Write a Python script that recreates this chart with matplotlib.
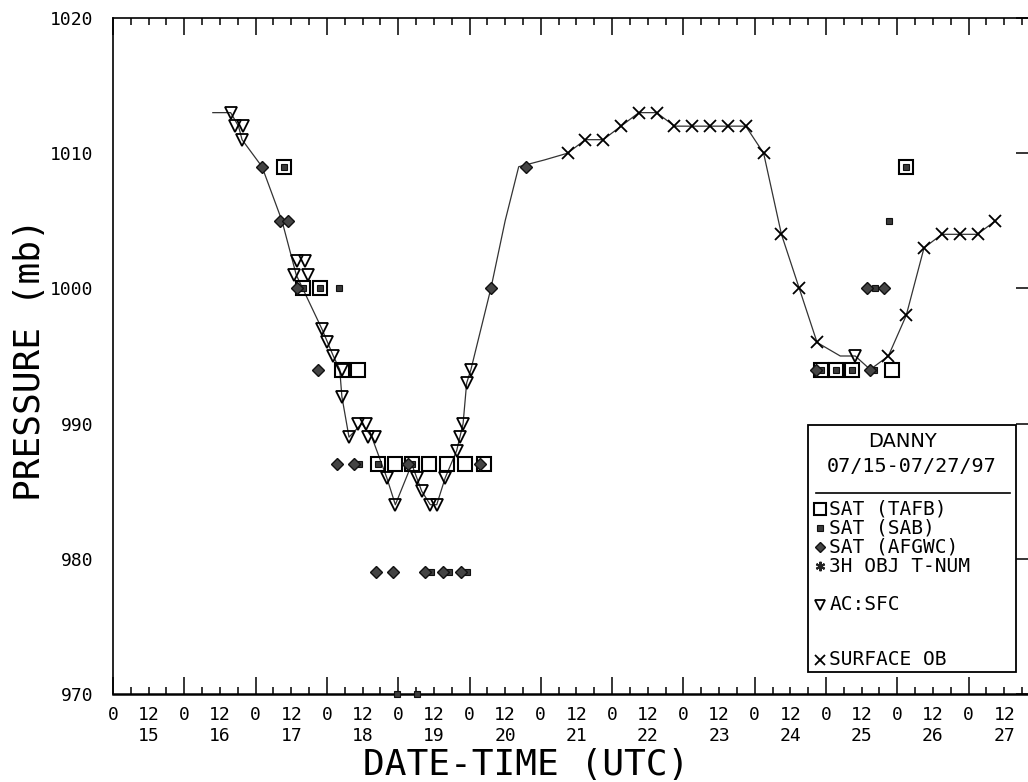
import matplotlib
matplotlib.use('Agg')
import matplotlib.pyplot as plt
from matplotlib.patches import Rectangle
import numpy as np

plt.rcParams['font.family'] = ['DejaVu Sans Mono']

# ---------------- data (x = day of July 1997, fractional; y = pressure mb) ----------------
track_day = [16.40, 16.65, 16.76, 16.81, 17.09, 17.37, 17.57, 17.93, 18.09, 18.18, 18.21,
             18.31, 18.49, 18.63, 18.84, 18.96, 19.19, 19.33, 19.45, 19.54, 19.66, 19.82,
             19.91, 19.96, 20.02, 20.30, 20.50, 20.69, 21.05, 21.375, 21.625, 21.875,
             22.125, 22.375, 22.625, 22.875, 23.125, 23.375, 23.625, 23.875, 24.125,
             24.375, 24.625, 24.875, 25.20, 25.41, 25.62, 25.875, 26.125, 26.375,
             26.625, 26.875, 27.125, 27.375]
track_p = [1013, 1013, 1012, 1011, 1009, 1005, 1001, 997, 995, 994, 992,
           989, 990, 989, 986, 984, 987, 985, 984, 984, 986, 988,
           990, 993, 994, 1000, 1005, 1009, 1009.5, 1010, 1011, 1011,
           1012, 1013, 1013, 1012, 1012, 1012, 1012, 1012, 1010,
           1004, 1000, 996, 995, 995, 994, 995, 998, 1003,
           1004, 1004, 1004, 1005]

tafb_day = [17.40, 17.66, 17.90, 18.21, 18.44, 18.72, 18.95, 19.19, 19.43, 19.68, 19.94,
            20.20, 24.93, 25.14, 25.37, 25.93, 26.12]
tafb_p = [1009, 1000, 1000, 994, 994, 987, 987, 987, 987, 987, 987,
          987, 994, 994, 994, 994, 1009]

sab_day = [17.40, 17.66, 17.90, 18.17, 18.45, 18.72, 19.19, 18.99, 19.26, 19.46, 19.71,
           19.96, 24.93, 25.14, 25.37, 25.68, 25.69, 25.88, 26.12]
sab_p = [1009, 1000, 1000, 1000, 987, 987, 987, 970, 970, 979, 979,
         979, 994, 994, 994, 994, 1000, 1005, 1009]

afgwc_day = [17.09, 17.34, 17.45, 17.58, 17.88, 18.14, 18.38, 18.69, 18.93, 19.14, 19.38,
             19.63, 19.88, 20.15, 20.30, 20.79, 24.86, 25.58, 25.62, 25.81]
afgwc_p = [1009, 1005, 1005, 1000, 994, 987, 987, 979, 979, 987, 979,
           979, 979, 987, 1000, 1009, 994, 1000, 994, 1000]

ac_day = [16.65, 16.71, 16.82, 16.81, 17.58, 17.69, 17.54, 17.73, 17.93, 18.00, 18.09,
          18.21, 18.21, 18.31, 18.44, 18.55, 18.58, 18.67, 18.84, 18.96, 19.26, 19.33,
          19.45, 19.54, 19.66, 19.82, 19.87, 19.91, 19.96, 20.02, 25.41]
ac_p = [1013, 1012, 1012, 1011, 1002, 1002, 1001, 1001, 997, 996, 995,
        994, 992, 989, 990, 990, 989, 989, 986, 984, 986, 985,
        984, 984, 986, 988, 989, 990, 993, 994, 995]

sfc_day = [21.375, 21.625, 21.875, 22.125, 22.375, 22.625, 22.875, 23.125, 23.375, 23.625,
           23.875, 24.125, 24.375, 24.625, 24.875, 25.875, 26.125, 26.375, 26.625, 26.875,
           27.125, 27.375]
sfc_p = [1010, 1011, 1011, 1012, 1013, 1013, 1012, 1012, 1012, 1012,
         1012, 1010, 1004, 1000, 996, 995, 998, 1003, 1004, 1004,
         1004, 1005]

days = list(range(15, 28))
ytick_vals = [970, 980, 990, 1000, 1010, 1020]

legend_labels = ['SAT (TAFB)', 'SAT (SAB)', 'SAT (AFGWC)', '3H OBJ T-NUM', 'AC:SFC', 'SURFACE OB']
storm_name = 'DANNY'
storm_dates = '07/15-07/27/97'

# ---------------- figure ----------------
W, H = 1028, 782
fig = plt.figure(figsize=(W / 100, H / 100), dpi=100)
ax = fig.add_axes([113 / W, 88 / H, 917 / W, 676 / H])
ax.set_xlim(15.0, 15.0 + 917 / 71.3)
ax.set_ylim(970, 1020)

ax.plot(track_day, track_p, color='#333333', lw=0.9, zorder=2, clip_on=False)

style_tafb = dict(marker='s', ms=10, mfc='none', mec='black', mew=1.5, ls='none')
style_sab = dict(marker='s', ms=5, mfc='#3a3a3a', mec='#111111', mew=0.8, ls='none')
style_afgwc = dict(marker='D', ms=6, mfc='#444444', mec='#111111', mew=1.0, ls='none')
style_obj = dict(marker=(6, 2, 0), ms=8, mec='#222222', mew=1.5, ls='none')
style_ac = dict(marker='v', ms=8.5, mfc='none', mec='black', mew=1.3, ls='none')
style_sfc = dict(marker='x', ms=8.5, mec='black', mew=1.3, ls='none')

ax.plot(tafb_day, tafb_p, zorder=4, clip_on=False, **style_tafb)
ax.plot(sab_day, sab_p, zorder=5, clip_on=False, **style_sab)
ax.plot(afgwc_day, afgwc_p, zorder=5, clip_on=False, **style_afgwc)
ax.plot(ac_day, ac_p, zorder=4, clip_on=False, **style_ac)
ax.plot(sfc_day, sfc_p, zorder=4, clip_on=False, **style_sfc)

# ---------------- axes / ticks ----------------
major = np.arange(15, 28, 1.0)
minor = [d + h / 24 for d in days for h in (6, 12, 18) if d + h / 24 < 27.86]
minor_labels = [('12\n%d' % int(m)) if abs((m % 1) - 0.5) < 1e-6 else '' for m in minor]
ax.set_xticks(major, labels=['0'] * len(major))
ax.set_xticks(minor, labels=minor_labels, minor=True)
ax.tick_params(axis='x', which='both', direction='in', top=True, bottom=True,
               labelsize=13, pad=9, width=1.1, color='black')
ax.tick_params(axis='x', which='major', length=12)
ax.tick_params(axis='x', which='minor', length=5)
for lab in ax.get_xticklabels(which='minor'):
    lab.set_linespacing(1.2)

ax.set_yticks(ytick_vals, labels=[str(v) for v in ytick_vals])
ax.tick_params(axis='y', which='major', direction='in', left=False, right=True,
               length=10, width=1.1, labelsize=13, pad=14)

for side, lw in (('left', 1.2), ('bottom', 1.8), ('top', 1.2), ('right', 1.2)):
    ax.spines[side].set_linewidth(lw)
    ax.spines[side].set_color('black')

fig.text(30 / W, 1 - 360 / H, 'PRESSURE (mb)', rotation=90, ha='center', va='center',
         fontsize=26, color='black')
fig.text(526 / W, 1 - 765 / H, 'DATE-TIME (UTC)', ha='center', va='center',
         fontsize=26, color='black')

# ---------------- legend box ----------------
tr = ax.transAxes
ax.add_patch(Rectangle((0.758, 0.0325), 0.227, 0.3655, transform=tr, facecolor='white',
                       edgecolor='black', lw=1.3, zorder=10, clip_on=False))
ax.text(0.8615, 0.373, storm_name, transform=tr, ha='center', va='center', fontsize=14,
        family=['DejaVu Sans'], zorder=11)
ax.text(0.8705, 0.336, storm_dates, transform=tr, ha='center', va='center', fontsize=14.5,
        zorder=11)
ax.plot([0.767, 0.978], [0.297, 0.297], transform=tr, color='black', lw=1.2, zorder=11)

rows_y = [0.2737, 0.2456, 0.2175, 0.1893, 0.1317, 0.0503]
styles = [style_tafb, style_sab, style_afgwc, style_obj, style_ac, style_sfc]
for yy, st, lab in zip(rows_y, styles, legend_labels):
    s = dict(st)
    s['ms'] = s['ms'] * 0.85
    ax.plot([0.7705], [yy], transform=tr, zorder=11, clip_on=False, **s)
    ax.text(0.781, yy, lab, transform=tr, ha='left', va='center', fontsize=14, zorder=11)

fig.savefig('out.png', dpi=100, facecolor='white')
